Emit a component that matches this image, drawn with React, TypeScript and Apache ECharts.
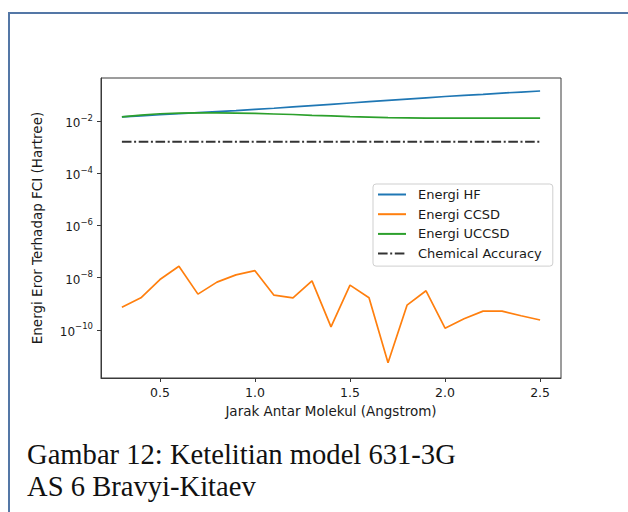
import React, { useEffect, useRef } from "react";
import * as echarts from "echarts";

// Data (x: Jarak Antar Molekul in Angstrom; y: energy error vs FCI, Hartree)
const distances = [0.3, 0.4, 0.5, 0.6, 0.7, 0.8, 0.9, 1.0, 1.1, 1.2, 1.3, 1.4, 1.5, 1.6, 1.7, 1.8, 1.9, 2.0, 2.1, 2.2, 2.3, 2.4, 2.5];
const energiHF = [0.01445, 0.01585, 0.01738, 0.01905, 0.02089, 0.02291, 0.02512, 0.02818, 0.0309, 0.03467, 0.0389, 0.04365, 0.04898, 0.05495, 0.06166, 0.06918, 0.07762, 0.0871, 0.0955, 0.1047, 0.1175, 0.1288, 0.1413];
const energiCCSD = [7.4e-10, 1.7e-9, 8.5e-9, 2.75e-8, 2.35e-9, 6.8e-9, 1.29e-8, 1.86e-8, 2.14e-9, 1.7e-9, 7.6e-9, 1.32e-10, 5.2e-9, 1.7e-9, 5.5e-12, 8.9e-10, 3.16e-9, 1.17e-10, 2.7e-10, 5.25e-10, 5.25e-10, 3.5e-10, 2.4e-10];
const energiUCCSD = [0.01445, 0.01698, 0.01905, 0.01995, 0.02042, 0.02042, 0.01995, 0.0195, 0.01862, 0.01778, 0.0166, 0.01585, 0.01479, 0.01413, 0.01349, 0.01318, 0.01288, 0.01288, 0.01288, 0.01288, 0.01288, 0.01288, 0.01288];
const chemicalAccuracy = 1.6e-3;
const xTicks = [0.5, 1.0, 1.5, 2.0, 2.5];
const yTickExponents = [-10, -8, -6, -4, -2];
const seriesNames = ["Energi HF", "Energi CCSD", "Energi UCCSD", "Chemical Accuracy"];
const captionLines = ["Gambar 12: Ketelitian model 631-3G", "AS 6 Bravyi-Kitaev"];

const toLog = (vals: number[]) => vals.map((v, i) => [distances[i], Math.log10(v)]);

export default function App() {
  const ref = useRef<HTMLDivElement>(null);
  useEffect(() => {
    if (!ref.current) return;
    const chart = echarts.init(ref.current, undefined, { renderer: "svg" });
    const font = "DejaVu Sans";
    const axisColor = "#3a3a3a";
    const option: any = {
      animation: false,
      backgroundColor: "#ffffff",
      grid: {
        left: 101,
        top: 78,
        width: 460,
        height: 300,
        show: true,
        borderColor: axisColor,
        borderWidth: 1,
        backgroundColor: "transparent",
      },
      xAxis: {
        type: "value",
        min: 0.19,
        max: 2.61,
        name: "Jarak Antar Molekul (Angstrom)",
        nameLocation: "middle",
        nameGap: 26,
        nameTextStyle: { fontFamily: font, fontSize: 13.5, color: "#1a1a1a" },
        axisLine: { show: true, lineStyle: { color: axisColor, width: 1 } },
        axisTick: { show: true, customValues: xTicks, length: 4, lineStyle: { color: axisColor } },
        axisLabel: {
          customValues: xTicks,
          formatter: (v: number) => v.toFixed(1),
          fontFamily: font,
          fontSize: 12.5,
          color: "#1a1a1a",
          margin: 8,
        },
        splitLine: { show: false },
      },
      yAxis: {
        type: "value",
        min: -11.84,
        max: -0.352,
        name: "Energi Eror Terhadap FCI (Hartree)",
        nameLocation: "middle",
        nameGap: 57,
        nameTextStyle: { fontFamily: font, fontSize: 13.5, color: "#1a1a1a" },
        axisLine: { show: true, lineStyle: { color: axisColor, width: 1 } },
        axisTick: { show: true, customValues: yTickExponents, length: 4, lineStyle: { color: axisColor } },
        axisLabel: {
          customValues: yTickExponents,
          formatter: (v: number) => `{b|10}{s|\u2212${Math.abs(v)}}`,
          margin: 8,
          rich: {
            b: { fontFamily: font, fontSize: 12, color: "#1a1a1a", lineHeight: 16, verticalAlign: "bottom" },
            s: { fontFamily: font, fontSize: 8.5, color: "#1a1a1a", lineHeight: 16, verticalAlign: "top" },
          },
        },
        splitLine: { show: false },
      },
      legend: {
        orient: "vertical",
        left: 373,
        top: 184,
        itemWidth: 28,
        itemHeight: 14,
        itemGap: 6.7,
        padding: [4, 11, 6, 4],
        borderColor: "#cfcfcf",
        borderWidth: 1,
        borderRadius: 3,
        backgroundColor: "rgba(255,255,255,0.85)",
        data: seriesNames,
        itemStyle: { opacity: 0, borderWidth: 0 },
        textStyle: { fontFamily: font, fontSize: 13, color: "#1a1a1a", padding: [0, 0, 0, 7] },
      },
      series: [
        {
          name: seriesNames[0],
          type: "line",
          data: toLog(energiHF),
          symbol: "none",
          lineStyle: { color: "#1f77b4", width: 1.7 },
          itemStyle: { color: "#1f77b4" },
        },
        {
          name: seriesNames[1],
          type: "line",
          data: toLog(energiCCSD),
          symbol: "none",
          lineStyle: { color: "#ff7f0e", width: 1.7 },
          itemStyle: { color: "#ff7f0e" },
        },
        {
          name: seriesNames[2],
          type: "line",
          data: toLog(energiUCCSD),
          symbol: "none",
          lineStyle: { color: "#2ca02c", width: 1.7 },
          itemStyle: { color: "#2ca02c" },
        },
        {
          name: seriesNames[3],
          type: "line",
          data: distances.map((x) => [x, Math.log10(chemicalAccuracy)]),
          symbol: "none",
          lineStyle: { color: "#333333", width: 2, type: [9.6, 2.6, 2, 2.6] },
          itemStyle: { color: "#333333" },
        },
      ],
      graphic: [
        { type: "line", shape: { x1: 9, y1: 13, x2: 628, y2: 13 }, style: { stroke: "#5477a6", lineWidth: 2 } },
        { type: "line", shape: { x1: 9, y1: 12, x2: 9, y2: 512 }, style: { stroke: "#5477a6", lineWidth: 2 } },
        {
          type: "text",
          left: 27,
          top: 440,
          style: { text: captionLines[0], font: "28.6px 'Liberation Serif'", fill: "#111111" },
        },
        {
          type: "text",
          left: 27,
          top: 472,
          style: { text: captionLines[1], font: "28.6px 'Liberation Serif'", fill: "#111111" },
        },
      ],
    };
    chart.setOption(option);
    return () => chart.dispose();
  }, []);
  return (
    <div
      ref={ref}
      style={{ position: "fixed", left: 0, top: 0, width: 628, height: 512, background: "#fff" }}
    />
  );
}
